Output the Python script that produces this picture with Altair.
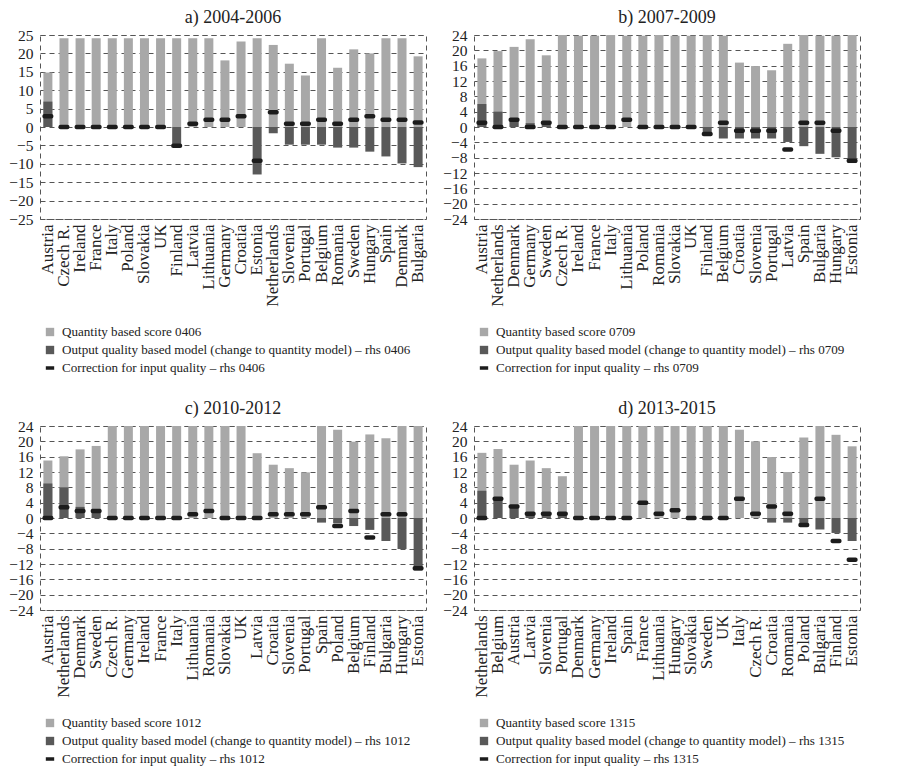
import altair as alt
import pandas as pd

# ---------------- data ----------------
A_countries = ["Austria", "Czech R.", "Ireland", "France", "Italy", "Poland", "Slovakia", "UK",
               "Finland", "Latvia", "Lithuania", "Germany", "Croatia", "Estonia", "Netherlands",
               "Slovenia", "Portugal", "Belgium", "Romania", "Sweden", "Hungary", "Spain",
               "Denmark", "Bulgaria"]
A_quantity = [14.8, 24.1, 24.1, 24.1, 24.1, 24.1, 24.1, 24.1, 24.1, 24.1, 24.1, 18.1, 23.2, 24.1,
              22.3, 17.2, 14.0, 24.1, 16.1, 21.1, 20.0, 24.1, 24.1, 19.2]
A_output = [6.9, 0, 0, 0, 0, 0, 0, 0, -5.3, 0, 0, 0, 0, -12.9, -1.7, -4.8, -4.8, -4.8, -5.6, -5.6,
            -6.7, -8.0, -9.9, -10.9]
A_correction = [2.9, 0, 0, 0, 0, 0, 0, 0, -5.1, 0.9, 2.0, 2.0, 2.9, -9.2, 4.0, 0.9, 0.9, 2.0, 0.9,
                2.0, 2.9, 2.0, 2.0, 1.2]

B_countries = ["Austria", "Netherlands", "Denmark", "Germany", "Sweden", "Czech R.", "Ireland",
               "France", "Italy", "Lithuania", "Poland", "Romania", "Slovakia", "UK", "Finland",
               "Belgium", "Croatia", "Slovenia", "Portugal", "Latvia", "Spain", "Bulgaria",
               "Hungary", "Estonia"]
B_quantity = [17.9, 19.8, 20.9, 22.9, 18.7, 24.0, 23.8, 23.8, 24.0, 23.8, 23.8, 24.0, 23.8, 23.8,
              24.0, 23.8, 16.8, 15.9, 14.8, 21.7, 24.0, 23.8, 23.8, 24.0]
B_output = [6.0, 4.0, 1.8, 1.0, 1.5, 0, 0, 0, 0, 0, 0, 0, 0, 0, -2.1, -3.0, -3.0, -3.0, -3.0, -3.9,
            -5.0, -7.0, -7.9, -9.4]
B_correction = [1.1, 0, 1.9, 0, 1.1, 0, 0, 0, 0, 1.9, 0, 0, 0, 0, -1.8, 1.1, -1.0, -1.0, -1.0,
                -5.9, 1.1, 1.1, -1.0, -8.8]

C_countries = ["Austria", "Netherlands", "Denmark", "Sweden", "Czech R.", "Germany", "Ireland",
               "France", "Italy", "Lithuania", "Romania", "Slovakia", "UK", "Latvia", "Croatia",
               "Slovenia", "Portugal", "Spain", "Poland", "Belgium", "Finland", "Bulgaria",
               "Hungary", "Estonia"]
C_quantity = [15.0, 16.1, 17.9, 18.8, 24.0, 24.0, 24.0, 24.0, 24.0, 24.0, 24.0, 24.0, 24.0, 16.9,
              13.9, 13.0, 11.9, 24.0, 23.0, 19.9, 21.8, 20.8, 24.0, 24.0]
C_output = [9.0, 8.0, 2.9, 2.2, 0, 0, 0, 0, 0, 0, 0, 0, 0, 0, 0, 0, 0, -1.2, -1.4, -2.1, -3.1,
            -6.0, -8.1, -13.7]
C_correction = [0, 2.8, 1.8, 1.8, 0, 0, 0, 0, 0, 1.0, 1.8, 0, 0, 0, 1.0, 1.0, 1.0, 2.8, -2.1, 1.8,
                -5.1, 1.0, 1.0, -13.1]

D_countries = ["Netherlands", "Belgium", "Austria", "Latvia", "Slovenia", "Portugal", "Denmark",
               "Germany", "Ireland", "Spain", "France", "Lithuania", "Hungary", "Slovakia",
               "Sweden", "UK", "Italy", "Czech R.", "Croatia", "Romania", "Poland", "Bulgaria",
               "Finland", "Estonia"]
D_quantity = [17.0, 18.0, 13.9, 15.0, 13.0, 10.9, 24.0, 24.0, 24.0, 24.0, 24.0, 24.0, 24.0, 24.0,
              24.0, 24.0, 23.0, 20.0, 15.9, 12.0, 21.0, 24.0, 21.7, 18.7]
D_output = [7.1, 5.0, 3.0, 1.0, 1.0, 1.2, 0, 0, 0, 0, 0, 0, 0, 0, 0, 0, 0, 0, -1.2, -1.2, -2.2,
            -3.0, -3.9, -6.0]
D_correction = [0, 5.0, 3.0, 1.1, 1.1, 1.1, 0, 0, 0, 0, 4.0, 1.1, 2.0, 0, 0, 0, 5.0, 1.1, 3.0,
                1.1, -1.8, 5.0, -6.0, -10.9]

titles = ["a) 2004-2006", "b) 2007-2009", "c) 2010-2012", "d) 2013-2015"]
codes = ["0406", "0709", "1012", "1315"]

# ---------------- style ----------------
FONT = "Liberation Serif"
LIGHT = "#a8a8a8"
DARK = "#595959"
MARK = "#1c1c1c"
GRID = "#555555"
W, H = 386, 184


def panel(countries, quantity, output, correction, title, code, ymax, step):
    df = pd.DataFrame({"country": countries, "quantity": quantity,
                       "output": output, "correction": correction})
    ticks = list(range(-ymax, ymax + 1, step))
    x = alt.X("country:N", sort=countries, title=None,
              scale=alt.Scale(paddingInner=0.42, paddingOuter=0.2),
              axis=alt.Axis(labelAngle=-90, labelFont=FONT, labelFontSize=17,
                            labelColor="#222", ticks=False, domain=False,
                            labelPadding=5, grid=False, labelBaseline="middle",
                            labelOverlap=False))
    yscale = alt.Scale(domain=[-ymax, ymax], nice=False, zero=False)
    yaxis = alt.Axis(values=ticks, labelFont=FONT, labelFontSize=15.5, labelColor="#222",
                     grid=True, gridColor=GRID, gridDash=[5, 4], gridWidth=1,
                     domain=False, ticks=False,
                     labelPadding=7, title=None, labelOverlap=False,
                     labelFlush=False)
    base = alt.Chart(df)
    light = base.mark_bar(color=LIGHT, size=9).encode(
        x=x, y=alt.Y("quantity:Q", scale=yscale, axis=yaxis), y2=alt.datum(0))
    dark = base.mark_bar(color=DARK, size=9).encode(
        x=x, y=alt.Y("output:Q", scale=yscale, axis=yaxis), y2=alt.datum(0))
    corr = base.mark_tick(color=MARK, thickness=4.5, size=11, cornerRadius=2,
                          opacity=1).encode(
        x=x, y=alt.Y("correction:Q", scale=yscale, axis=yaxis))
    plot = alt.layer(light, dark, corr).properties(
        width=W, height=H,
        title=alt.TitleParams(title, font=FONT, fontSize=18, fontWeight="normal",
                              color="#222", offset=1),
        view=alt.ViewBackground(stroke=GRID, strokeDash=[5, 4], strokeWidth=1))

    leg = pd.DataFrame({
        "idx": [0, 1, 2],
        "label": [f"Quantity based score {code}",
                  f"Output quality based model (change to quantity model) \u2013 rhs {code}",
                  f"Correction for input quality \u2013 rhs {code}"],
        "sym": ["q", "o", "c"],
    })
    ly = alt.Y("idx:O", axis=None, scale=alt.Scale(padding=0.5))
    sym = alt.Chart(leg).mark_point(filled=True, opacity=1, size=70).encode(
        x=alt.value(10), y=ly,
        color=alt.Color("sym:N", legend=None,
                        scale=alt.Scale(domain=["q", "o", "c"], range=[LIGHT, DARK, MARK])),
        shape=alt.Shape("sym:N", legend=None,
                        scale=alt.Scale(domain=["q", "o", "c"],
                                        range=["square", "square",
                                               "M-1,-0.42L1,-0.42L1,0.42L-1,0.42Z"])))
    txt = alt.Chart(leg).mark_text(align="left", baseline="middle", font=FONT,
                                   fontSize=13.1, color="#222").encode(
        x=alt.value(22), y=ly, text="label:N")
    legend = alt.layer(sym, txt).properties(
        width=W, height=54, view=alt.ViewBackground(stroke="transparent"))
    return alt.vconcat(plot, legend, spacing=15)


pa = panel(A_countries, A_quantity, A_output, A_correction, titles[0], codes[0], 25, 5)
pb = panel(B_countries, B_quantity, B_output, B_correction, titles[1], codes[1], 24, 4)
pc = panel(C_countries, C_quantity, C_output, C_correction, titles[2], codes[2], 24, 4)
pd_ = panel(D_countries, D_quantity, D_output, D_correction, titles[3], codes[3], 24, 4)

chart = alt.vconcat(
    alt.hconcat(pa, pb, spacing=15),
    alt.hconcat(pc, pd_, spacing=15),
    spacing=21,
).properties(padding={"left": 0, "top": 0, "right": 0, "bottom": 0}).configure(
    background="white",
)

chart.save("out.html", embed_options={"renderer": "svg", "actions": False})
